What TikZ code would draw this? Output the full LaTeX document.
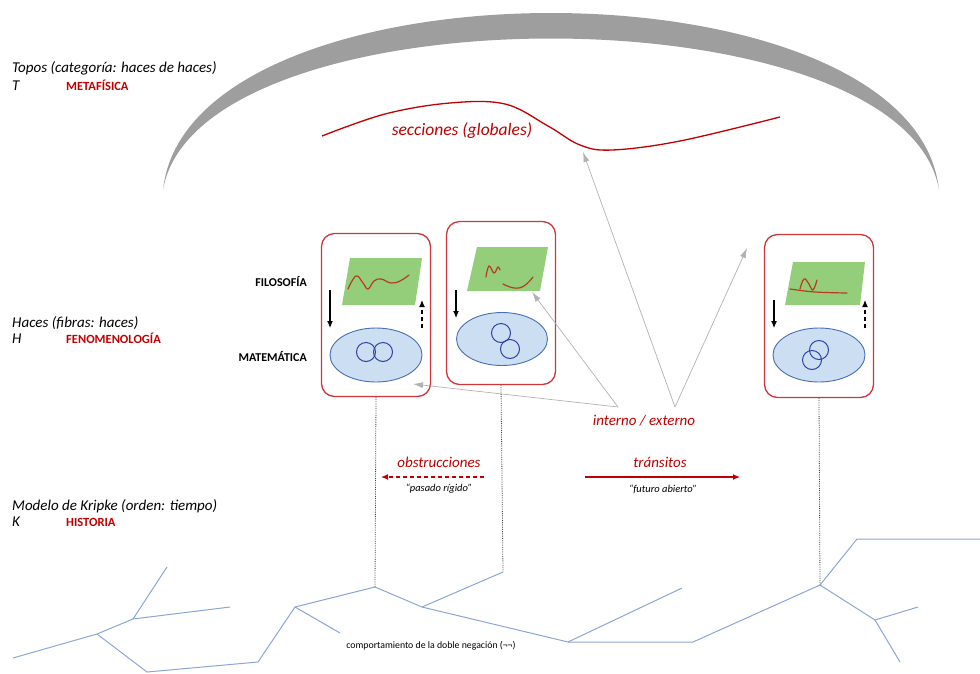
\documentclass[tikz,border=0pt]{standalone}
\usepackage{fontspec}
\setmainfont{Carlito}
\usetikzlibrary{arrows.meta,shapes.geometric}

\definecolor{darkred}{RGB}{192,0,0}
\definecolor{boxred}{RGB}{205,55,60}
\definecolor{arcgray}{RGB}{158,158,158}
\definecolor{leafgreen}{RGB}{148,206,122}
\definecolor{paleblue}{RGB}{204,222,242}
\definecolor{rimblue}{RGB}{72,110,180}
\definecolor{ringblue}{RGB}{45,65,165}
\definecolor{treeblue}{RGB}{140,165,215}
\definecolor{squig}{RGB}{180,62,28}
\definecolor{raygray}{RGB}{178,178,178}

\begin{document}
\begin{tikzpicture}[x=1pt,y=-1pt,
  levelname/.style={anchor=base west, inner sep=0pt, font=\fontsize{15}{17}\selectfont\itshape},
  discipline/.style={anchor=base west, inner sep=0pt, text=darkred, font=\fontsize{12.5}{14}\selectfont\bfseries},
  sidelabel/.style={anchor=base east, inner sep=0pt, font=\fontsize{12}{14}\selectfont\bfseries},
  redlabel/.style={inner sep=0pt, text=darkred, font=\fontsize{15}{17}\selectfont\itshape},
  quote/.style={inner sep=0pt, font=\fontsize{10.5}{12}\selectfont\itshape},
  fibre/.style={draw=boxred, line width=1.3pt, rounded corners=13pt, minimum width=109pt, minimum height=163pt, inner sep=0pt},
  stalk/.style={ellipse, draw=rimblue, fill=paleblue, line width=0.9pt, minimum width=92pt, minimum height=54pt, inner sep=0pt},
  ring/.style={circle, draw=ringblue, line width=1pt, minimum size=19pt, inner sep=0pt},
  plane/.style={fill=leafgreen},
  wave/.style={squig, line width=1.2pt, line cap=round},
  pull/.style={-{Latex[length=7pt,width=6pt]}, line width=1.1pt},
  push/.style={pull, dash pattern=on 4pt off 3pt},
  ray/.style={draw=raygray, line width=0.7pt, -{Latex[length=10pt,width=6pt]}},
  branch/.style={treeblue, line width=1pt},
  thread/.style={densely dotted, line width=0.8pt, black!75}]

\useasboundingbox (0,0) rectangle (980,673);

% ---------------- level names on the left ----------------
\node[levelname] (topos) at (12,72) {Topos (categoría: haces de haces)};
\node[levelname] (tsym) at (12,90) {T};
\node[discipline] (meta) at (66,90) {METAFÍSICA};
\node[levelname] (haces) at (12,327) {Haces (fibras: haces)};
\node[levelname] (hsym) at (12,343) {H};
\node[discipline] (feno) at (66,343) {FENOMENOLOGÍA};
\node[levelname] (kripke) at (12,510) {Modelo de Kripke (orden: tiempo)};
\node[levelname] (ksym) at (12,526) {K};
\node[discipline] (hist) at (66,526) {HISTORIA};

\node[sidelabel] (filo) at (307,286) {FILOSOFÍA};
\node[sidelabel] (mate) at (307,361) {MATEMÁTICA};

% ---------------- the topos: grey crescent ----------------
\fill[arcgray] (163,190) .. controls (188,-46) and (914,-46) .. (939,190)
               .. controls (905,-12) and (197,-12) .. (163,190) -- cycle;

% global section
\draw[darkred, line width=1.3pt] plot[smooth, tension=0.6] coordinates
  {(322,136) (385,114) (450,103) (505,104) (548,126) (580,145) (612,150) (680,141) (780,117)};
\node[redlabel, font=\fontsize{17.5}{20}\selectfont\itshape] (secc) at (462,131) {secciones (globales)};

% ---------------- three fibres ----------------
\node[fibre] (box1) at (376,315) {};
\node[fibre] (box2) at (501,303) {};
\node[fibre] (box3) at (819,316) {};

% fibre 1
\fill[plane] (350,258) -- (422,258) -- (415,305) -- (342,305) -- cycle;
\coordinate (tip1) at (532,292);
\draw[wave] plot[smooth, tension=0.7] coordinates
  {(348,289) (356,276) (363,283) (368,289) (374,281) (381,279) (391,283) (400,281) (409,275)};
\node[stalk] (ell1) at (376,355) {};
\node[ring] (c1a) at (366,352) {};
\node[ring] (c1b) at (383,352) {};
\coordinate (d1s) at (330,290);
\coordinate (d1e) at (330,328);
\draw[pull] (d1s) -- (d1e);
\coordinate (u1s) at (422,328);
\coordinate (u1e) at (422,300);
\draw[push] (u1s) -- (u1e);

% fibre 2
\fill[plane] (477,247) -- (548,247) -- (540,291) -- (467,291) -- cycle;
\draw[wave] plot[smooth, tension=0.7] coordinates
  {(486,277) (489,266) (494,273) (498,267) (500,270)};
\draw[wave] plot[smooth, tension=0.7] coordinates
  {(503,284) (514,288) (524,286) (533,277)};
\node[stalk, minimum width=91pt, minimum height=53pt] (ell2) at (502,339) {};
\node[ring] (c2a) at (501,333) {};
\node[ring] (c2b) at (510,349) {};
\coordinate (d2s) at (456,290);
\coordinate (d2e) at (456,318);
\draw[pull] (d2s) -- (d2e);

% fibre 3
\fill[plane] (793,262) -- (865,262) -- (860,305) -- (785,305) -- cycle;
\draw[wave] plot[smooth, tension=0.7] coordinates
  {(800,289) (804,279) (809,284) (813,290) (817,280)};
\draw[wave] plot[smooth, tension=0.6] coordinates
  {(790,289) (815,292) (847,293)};
\node[stalk] (ell3) at (819,355) {};
\node[ring] (c3a) at (819,350) {};
\node[ring] (c3b) at (812,360) {};
\coordinate (d3s) at (774,300);
\coordinate (d3e) at (774,328);
\draw[pull] (d3s) -- (d3e);
\coordinate (u3s) at (865,328);
\coordinate (u3e) at (865,300);
\draw[push] (u3s) -- (u3e);

% ---------------- internal / external pointers ----------------
\node[redlabel] (intext) at (644,421) {interno / externo};
\coordinate (srcL) at (618,407);
\coordinate (srcR) at (675,407);
\coordinate (hit1) at (413,384);
\coordinate (hitS) at (583,152);
\coordinate (hitE) at (747,248);
\draw[ray] (srcL) -- (hit1);
\draw[ray] (srcL) -- (tip1);
\draw[ray] (srcR) -- (hitS);
\draw[ray] (srcR) -- (hitE);

% ---------------- obstructions / transits ----------------
\node[redlabel] (obst) at (439,462) {obstrucciones};
\coordinate (obA) at (484,477);
\coordinate (obB) at (381,477);
\draw[darkred, dash pattern=on 4pt off 3pt, line width=1.2pt, -{Latex[length=7pt,width=6pt]}] (obA) -- (obB);
\node[quote] (pasado) at (439,489) {“pasado rígido”};

\node[redlabel] (trans) at (660,462) {tránsitos};
\coordinate (trA) at (585,477);
\coordinate (trB) at (740,477);
\draw[darkred, line width=1.2pt, -{Latex[length=7pt,width=6pt]}] (trA) -- (trB);
\node[quote] (futuro) at (663,489) {“futuro abierto”};

% ---------------- Kripke tree ----------------
\coordinate (t1) at (13,658);
\coordinate (t2) at (97,634);
\coordinate (t3) at (133,619);
\coordinate (t4) at (230,607);
\coordinate (t5) at (167,567);
\coordinate (t6) at (147,672);
\coordinate (t7) at (258,662);
\coordinate (t8) at (295,607);
\coordinate (t9) at (375,587);
\coordinate (t10) at (340,633);
\coordinate (t11) at (422,607);
\coordinate (t12) at (503,572);
\coordinate (t13) at (568,642);
\coordinate (t14) at (682,588);
\coordinate (t15) at (693,642);
\coordinate (t16) at (820,585);
\coordinate (t17) at (857,539);
\coordinate (t18) at (980,539);
\coordinate (t19) at (875,620);
\coordinate (t20) at (918,607);
\coordinate (t21) at (900,662);

\draw[branch] (t1) -- (t2) -- (t3) -- (t4);
\draw[branch] (t3) -- (t5);
\draw[branch] (t2) -- (t6) -- (t7) -- (t8) -- (t9);
\draw[branch] (t8) -- (t10);
\draw[branch] (t9) -- (t11) -- (t12);
\draw[branch] (t11) -- (t13) -- (t14);
\draw[branch] (t13) -- (t15) -- (t16);
\draw[branch] (t16) -- (t17) -- (t18);
\draw[branch] (t16) -- (t19) -- (t20);
\draw[branch] (t19) -- (t21);

% fibres hang over their points of the tree
\draw[thread] (box1.south) -- (t9);
\draw[thread] (box2.south) -- (t12);
\draw[thread] (box3.south) -- (t16);

\node[inner sep=0pt, font=\fontsize{9.8}{11}\selectfont] (negacion) at (431,646) {comportamiento de la doble negación (¬¬)};

\end{tikzpicture}
\end{document}
